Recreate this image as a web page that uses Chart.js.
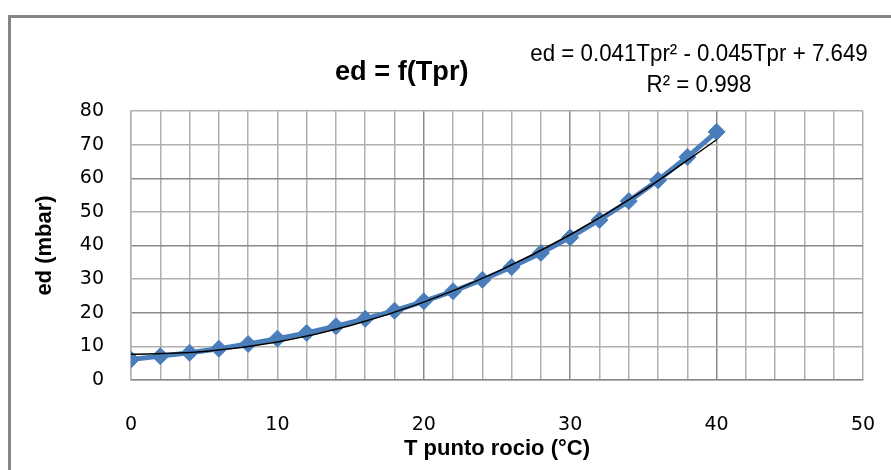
<!DOCTYPE html>
<html>
<head>
<meta charset="utf-8">
<script src="https://cdn.jsdelivr.net/npm/chart.js@4"></script>
<style>
  html, body { margin: 0; padding: 0; background: #fff; }
  #wrap { position: relative; width: 891px; height: 470px; overflow: hidden; }
  #frame { position: absolute; left: 8px; top: 15px; width: 900px; height: 480px;
           border: 3px solid #868686; box-sizing: border-box; }
  canvas { position: absolute; left: 0; top: 0; }
  .txt { position: absolute; white-space: nowrap; color: #000; }
  #title { left: 335px; top: 55px; font: bold 28px "Liberation Sans", Arial, sans-serif;
           transform: scaleX(0.97); transform-origin: left center; }
  #eq { left: 484px; width: 430px; top: 37px; text-align: center;
        font: 24px "Liberation Sans", sans-serif; line-height: 31px;
        transform: scaleX(0.93); transform-origin: center center; }
</style>
</head>
<body>
<div id="wrap">
  <div id="frame"></div>
  <canvas id="canvas" width="891" height="470"></canvas>
  <div class="txt" id="title">ed = f(Tpr)</div>
  <div class="txt" id="eq">ed = 0.041Tpr² - 0.045Tpr + 7.649<br>R² = 0.998</div>
</div>
<script>
// dew point temperature (°C) and vapour pressure ed (mbar)
const tpr = [0, 2, 4, 6, 8, 10, 12, 14, 16, 18, 20, 22, 24, 26, 28, 30, 32, 34, 36, 38, 40];
const ed = [6.1, 7.1, 8.1, 9.3, 10.7, 12.3, 14.0, 16.0, 18.2, 20.6, 23.4, 26.4, 29.8, 33.6, 37.8, 42.4, 47.6, 53.2, 59.4, 66.3, 73.8];

// polynomial trend line
const trendX = [0, 5, 10, 15, 20, 25, 30, 35, 40];
const trendY = [7.65, 8.45, 11.3, 16.2, 23.15, 32.15, 43.2, 56.3, 71.45];

const xTicks = [0, 10, 20, 30, 40, 50];
const yTicks = [0, 10, 20, 30, 40, 50, 60, 70, 80];

const blue = '#4a7ebb';
const tickFont = { family: '"DejaVu Sans", sans-serif', size: 19 };
const axisTitleFont = { family: '"Liberation Sans", Arial, sans-serif', size: 22, weight: 'bold' };

function createChart() {
    const ctx = document.getElementById('canvas').getContext('2d');

    new Chart(ctx, {
        type: 'scatter',
        data: {
            datasets: [
                {
                    label: 'ed',
                    data: tpr.map((t, i) => ({ x: t, y: ed[i] })),
                    showLine: true,
                    borderColor: blue,
                    backgroundColor: blue,
                    borderWidth: 5,
                    pointStyle: 'rectRot',
                    pointRadius: 8.5,
                    pointBorderWidth: 1,
                    order: 2,
                },
                {
                    label: 'trend',
                    data: trendX.map((t, i) => ({ x: t, y: trendY[i] })),
                    showLine: true,
                    borderColor: '#000',
                    borderWidth: 1.5,
                    pointRadius: 0,
                    cubicInterpolationMode: 'monotone',
                    order: 1,
                }
            ]
        },
        options: {
            responsive: false,
            animation: false,
            layout: { padding: { left: 0, top: 111, right: 28, bottom: 0 } },
            scales: {
                x: {
                    min: 0,
                    max: 50,
                    afterFit: s => { s.height = 90; s.paddingLeft = 0; s.paddingRight = 0; },
                    afterBuildTicks: s => {
                        s.ticks = [];
                        for (let v = 0; v <= 50; v += 2) s.ticks.push({ value: v });
                    },
                    ticks: {
                        autoSkip: false,
                        maxRotation: 0,
                        padding: 34,
                        color: '#000',
                        font: tickFont,
                        callback: v => xTicks.includes(v) ? String(v) : '',
                    },
                    grid: {
                        drawTicks: false,
                        color: c => (c.tick && [20, 30, 40].includes(c.tick.value)) ? '#8a8a8a' : '#b0b0b0',
                        lineWidth: 1.5,
                    },
                    border: { color: '#8a8a8a', width: 1.5 },
                    title: {
                        display: true,
                        text: 'T punto rocio (°C)',
                        color: '#000',
                        font: axisTitleFont,
                        padding: { top: 0, bottom: 8 },
                    },
                },
                y: {
                    min: 0,
                    max: 80,
                    afterFit: s => { s.width = 131; s.paddingTop = 0; s.paddingBottom = 0; },
                    afterBuildTicks: s => { s.ticks = yTicks.map(v => ({ value: v })); },
                    ticks: {
                        padding: 27,
                        color: '#000',
                        font: tickFont,
                    },
                    grid: {
                        drawTicks: false,
                        color: c => (c.tick && [20, 40, 60].includes(c.tick.value)) ? '#8a8a8a' : '#b0b0b0',
                        lineWidth: 1.5,
                    },
                    border: { color: '#b0b0b0', width: 1.5 },
                    title: {
                        display: true,
                        text: 'ed (mbar)',
                        color: '#000',
                        font: axisTitleFont,
                        padding: { top: 32, bottom: 0 },
                    },
                },
            },
            plugins: {
                legend: { display: false },
                tooltip: { enabled: false },
            }
        }
    });
}

createChart();
</script>
</body>
</html>
